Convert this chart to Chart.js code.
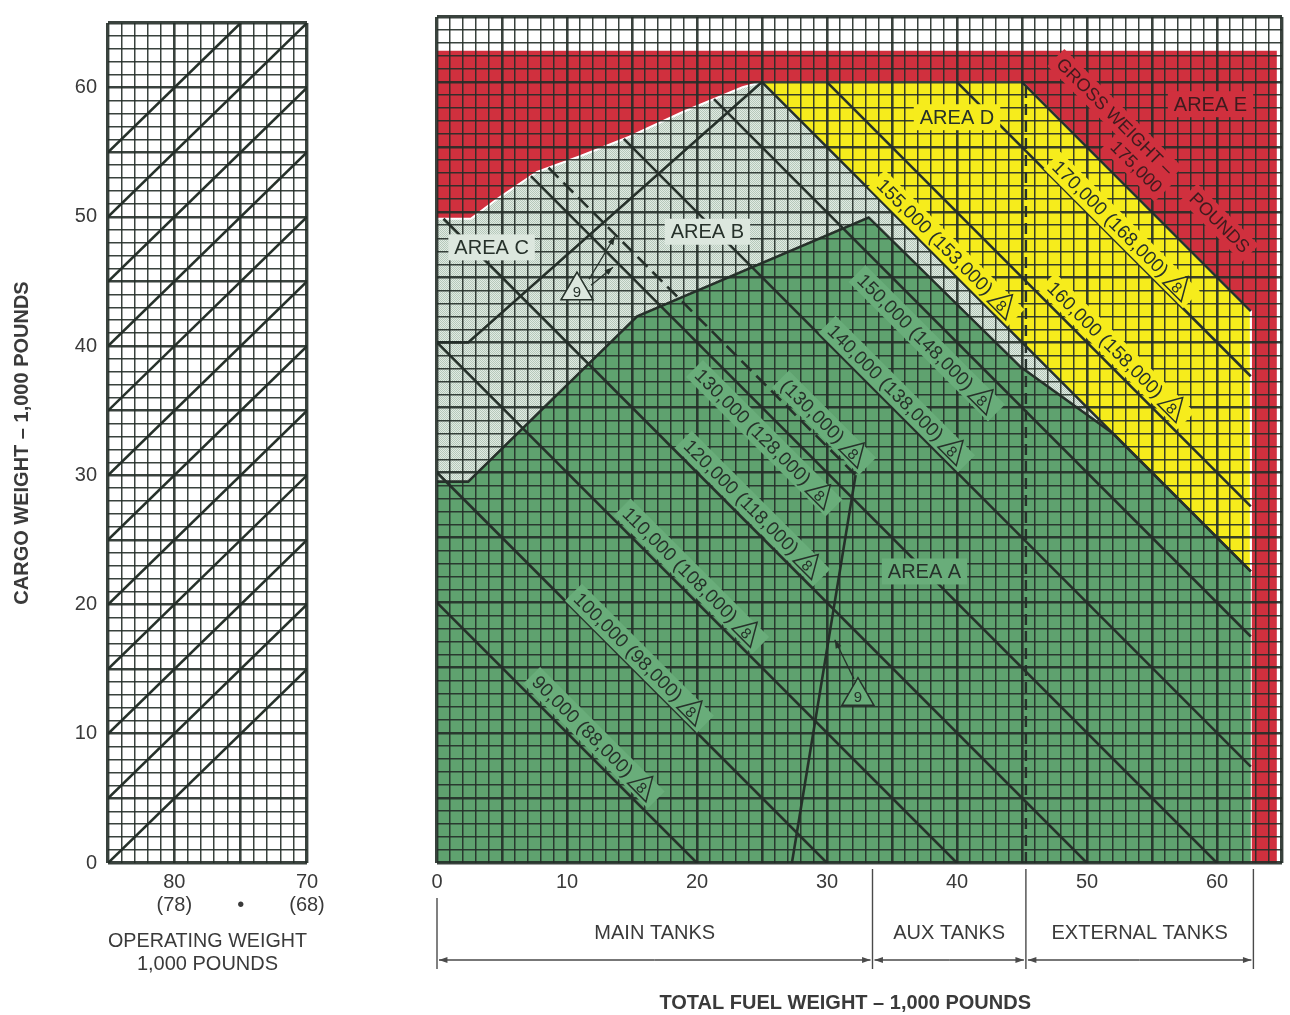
<!DOCTYPE html>
<html>
<head>
<meta charset="utf-8">
<title>Cargo / fuel loading chart</title>
<script src="https://cdn.jsdelivr.net/npm/chart.js@4.4.1/dist/chart.umd.min.js"></script>
<style>
  html, body { margin: 0; padding: 0; background: #ffffff; }
  #wrap { position: relative; width: 1290px; height: 1015px; overflow: hidden; }
  #opw  { position: absolute; left: 0; top: 0; }
  #fuel { position: absolute; left: 340px; top: 0; }
</style>
</head>
<body>
<div id="wrap">
  <canvas id="opw" width="340" height="1015"></canvas>
  <canvas id="fuel" width="950" height="1015"></canvas>
</div>
<script>
// ---------------- values ----------------
const cargoTicks = [0, 10, 20, 30, 40, 50, 60];
const fuelTicks = [0, 10, 20, 30, 40, 50, 60];

// operating weight panel (1,000 lb) - guide lines: cargo = start - operating weight
const opTickValues = [80, 75, 70];
const opTickLabels = [['80', '(78)'], ['', '\u2022'], ['70', '(68)']];
const opGuideStarts = [85, 90, 95, 100, 105, 110, 115, 120, 125, 130, 135, 140];

// gross weight lines (1,000 lb), drawn for 70,000 lb operating weight (68,000 in brackets)
const baseOpWeight = 70;
const altOpWeight = 68;
const grossWeights = [90, 100, 110, 120, 130, 140, 150, 155, 160, 170, 175];
const dashedGross = 130;           // shown for the 68,000 lb operating weight

// regions (fuel 1,000 lb, cargo 1,000 lb)
const areaE_x = [0, 64.6, 64.6, 0];
const areaE_y = [0, 0, 62.4, 62.4];
const envTop_x = [0, 2.6, 4.6, 7.7, 11.0, 14.8, 18.9, 23.5, 25, 45, 62.6];
const envTop_y = [49.5, 49.5, 51.0, 53.1, 54.3, 55.8, 57.7, 59.6, 60, 60, 42.4];
const areaD_x = [25, 45, 62.6, 62.6];
const areaD_y = [60, 60, 42.4, 22.4];
const areaA_x = [0, 0, 2.4, 15.4, 33.2, 44.9, 52, 62.6, 62.6];
const areaA_y = [0, 29.3, 29.3, 42, 49.6, 38.1, 33, 22.4, 0];
const areaBC_x = [0, 2.4, 25];
const areaBC_y = [40, 40, 60];
const limit9_x = [27.3, 32.2];
const limit9_y = [0, 29.8];
const fuelLimit = 62.6;
const tankSplit = 45.3;
const tankEdges = [0, 33.5, 45.3, 62.8];
const tankNames = ['MAIN TANKS', 'AUX TANKS', 'EXTERNAL TANKS'];

// ---------------- look ----------------
const FONT = '"Liberation Sans", Arial, Helvetica, sans-serif';
const TEXT = '#3a3a3a';
const GRID = 'rgba(36,46,40,0.9)';
const INK = '#26312a';
const RED = '#d0303e';
const YELLOW = '#f6ec1c';
const GREEN = '#5fa26f';
const GREEN_LABEL = '#69ad7a';
const LIGHT_LABEL = '#dce7de';

Chart.defaults.font.family = FONT;
Chart.defaults.color = TEXT;
Chart.defaults.animation = false;

const pts = (xs, ys) => xs.map((x, i) => ({ x, y: ys[i] }));
const closed = (xs, ys) => { const p = pts(xs, ys); p.push({ x: xs[0], y: ys[0] }); return p; };

function gridWidth(ctx) {
  if (!ctx.tick) return 1.5;
  const v = ctx.tick.value, s = ctx.scale;
  if (Math.abs(v - s.min) < 1e-6 || Math.abs(v - s.max) < 1e-6) return 3.4;
  return Math.abs(v % 5) < 1e-6 ? 2.6 : 1.5;
}

function stipple(canvasId, a, b) {
  const c = document.createElement('canvas');
  c.width = 2; c.height = 2;
  const g = c.getContext('2d');
  g.fillStyle = a; g.fillRect(0, 0, 2, 2);
  g.fillStyle = b; g.fillRect(0, 0, 1, 1); g.fillRect(1, 1, 1, 1);
  return document.getElementById(canvasId).getContext('2d').createPattern(c, 'repeat');
}

const lineStyle = { type: 'line', fill: false, borderColor: INK, borderWidth: 2.6, pointRadius: 0, tension: 0, order: 10 };

// ---------------- operating weight panel ----------------
const opMin = 70, opMax = 85, cargoMax = 65;
const opDatasets = opGuideStarts.map(s => {
  const xa = Math.max(opMin, s - cargoMax), xb = Math.min(opMax, s);
  return { ...lineStyle, data: [{ x: xa, y: s - xa }, { x: xb, y: s - xb }] };
});

new Chart(document.getElementById('opw'), {
  type: 'line',
  data: { datasets: opDatasets },
  options: {
    responsive: false,
    events: [],
    layout: { padding: { top: 17, right: 33, left: 0, bottom: 0 } },
    plugins: { legend: { display: false }, tooltip: { enabled: false } },
    scales: {
      x: {
        type: 'linear', min: opMin, max: opMax, reverse: true,
        ticks: {
          stepSize: 1, autoSkip: false, maxRotation: 0, padding: 8, color: TEXT,
          font: { size: 20, lineHeight: 1.15 },
          callback: v => { const i = opTickValues.indexOf(v); return i >= 0 ? opTickLabels[i] : ''; }
        },
        grid: { drawTicks: false, color: GRID, lineWidth: gridWidth, z: 1 },
        border: { display: false },
        title: { display: true, text: ['OPERATING WEIGHT', '1,000 POUNDS'], color: TEXT,
                 font: { size: 20, lineHeight: 1.15 }, padding: { top: 0, bottom: 39 } },
        afterFit: s => { s.height = 152; }
      },
      y: {
        type: 'linear', min: 0, max: cargoMax,
        ticks: {
          stepSize: 1, autoSkip: false, padding: 11, color: TEXT, font: { size: 20 },
          callback: v => cargoTicks.includes(v) ? String(v) : ''
        },
        grid: { drawTicks: false, color: GRID, lineWidth: gridWidth, z: 1 },
        border: { display: false },
        title: { display: true, text: 'CARGO WEIGHT \u2013 1,000 POUNDS', color: TEXT,
                 font: { size: 20, weight: 'bold' }, padding: { top: 10, bottom: 0 } },
        afterFit: s => { s.width = 108; }
      }
    }
  }
});

// ---------------- fuel panel ----------------
function startOnEnvelope(c) {
  if (c <= envTop_x[0] + envTop_y[0]) return { x: 0, y: c };
  for (let i = 0; i < envTop_x.length - 1; i++) {
    const s0 = envTop_x[i] + envTop_y[i], s1 = envTop_x[i + 1] + envTop_y[i + 1];
    if (c > s0 && c <= s1) {
      const t = (c - s0) / (s1 - s0);
      return { x: envTop_x[i] + t * (envTop_x[i + 1] - envTop_x[i]),
               y: envTop_y[i] + t * (envTop_y[i + 1] - envTop_y[i]) };
    }
  }
  return null;
}

function meetLimit9(c) {
  const dx = limit9_x[1] - limit9_x[0], dy = limit9_y[1] - limit9_y[0];
  const t = (c - limit9_x[0] - limit9_y[0]) / (dx + dy);
  return { x: limit9_x[0] + t * dx, y: limit9_y[0] + t * dy };
}

const grayFill = stipple('fuel', '#e1eae3', '#b5c9ba');

const fuelDatasets = [
  { type: 'line', data: closed(areaE_x, areaE_y), fill: 'shape', backgroundColor: RED,
    borderColor: 'rgba(0,0,0,0)', borderWidth: 1, pointRadius: 0, tension: 0, order: 100 },
  { type: 'line', data: closed(envTop_x.concat([fuelLimit, 0]), envTop_y.concat([0, 0])), fill: 'shape',
    backgroundColor: grayFill, borderColor: '#ffffff', borderWidth: 2, pointRadius: 0, tension: 0, order: 90 },
  { type: 'line', data: closed(areaD_x, areaD_y), fill: 'shape', backgroundColor: YELLOW,
    borderColor: '#ffffff', borderWidth: 2, pointRadius: 0, tension: 0, order: 80 },
  { type: 'line', data: closed(areaA_x, areaA_y), fill: 'shape', backgroundColor: GREEN,
    borderColor: 'rgba(0,0,0,0)', borderWidth: 1, pointRadius: 0, tension: 0, order: 70 },
  // area outlines
  { ...lineStyle, data: pts(areaA_x.slice(1, 8), areaA_y.slice(1, 8)) },
  { ...lineStyle, data: pts(areaBC_x, areaBC_y) },
  { ...lineStyle, data: pts(limit9_x, limit9_y) },
  { ...lineStyle, borderWidth: 2.4, borderDash: [11, 6],
    data: [{ x: tankSplit, y: 0 }, { x: tankSplit, y: 60 }] }
];

grossWeights.forEach(g => {
  const c = g - baseOpWeight;
  const a = startOnEnvelope(c);
  const xe = Math.min(c, fuelLimit);
  fuelDatasets.push({ ...lineStyle, data: [a, { x: xe, y: c - xe }] });
});
{
  const c = dashedGross - altOpWeight;
  fuelDatasets.push({ ...lineStyle, borderDash: [14, 7], data: [startOnEnvelope(c), meetLimit9(c)] });
}

// label placement: [fuel value at label centre, offset across the line], region colour
const lineLabelPlacement = [
  [11.2, 1.7, 'A'], [14.7, 1.3, 'A'], [18.7, 1.6, 'A'], [23.4, 1.5, 'A'], [24.3, -2.2, 'A'],
  [34.5, 1.4, 'A'], [36.8, -2.4, 'A'], [38.3, 1.4, 'D'], [51.4, 1.6, 'D'], [51.8, 1.3, 'D'], null
];
const dashedLabelPlacement = [28.9, 1.6, 'A'];
const regionBg = { A: GREEN_LABEL, B: LIGHT_LABEL, D: YELLOW, E: RED };
const areaLabels = [
  ['AREA A', 37.5, 22.4, 'A'], ['AREA B', 20.8, 48.5, 'B'], ['AREA C', 4.2, 47.3, 'B'],
  ['AREA D', 40.0, 57.3, 'D'], ['AREA E', 59.5, 58.3, 'E']
];
const fmt = v => (v * 1000).toLocaleString('en-US');

function noteTriangle(ctx, cx, cy, side, label, fontSize, bg) {
  const h = side * 0.866;
  ctx.beginPath();
  ctx.moveTo(cx, cy - h * 0.62);
  ctx.lineTo(cx + side / 2, cy + h * 0.38);
  ctx.lineTo(cx - side / 2, cy + h * 0.38);
  ctx.closePath();
  if (bg) { ctx.fillStyle = bg; ctx.fill(); }
  ctx.lineWidth = 1.5; ctx.strokeStyle = INK; ctx.stroke();
  ctx.fillStyle = INK;
  ctx.font = fontSize + 'px ' + FONT;
  ctx.textAlign = 'center'; ctx.textBaseline = 'middle';
  ctx.fillText(label, cx, cy + h * 0.12);
}

function slantLabel(ctx, px, py, text, bg, withNote, size, color) {
  ctx.save();
  ctx.translate(px, py);
  ctx.rotate(Math.PI / 4);
  ctx.font = size + 'px ' + FONT;
  const w = ctx.measureText(text).width;
  const extra = withNote ? 32 : 0;
  ctx.fillStyle = bg;
  ctx.fillRect(-w / 2 - 5, -12, w + 10 + extra, 24);
  ctx.fillStyle = color || INK;
  ctx.textAlign = 'center'; ctx.textBaseline = 'middle';
  ctx.fillText(text, 0, 1);
  if (withNote) noteTriangle(ctx, w / 2 + 18, 0, 26, '8', 15, null);
  ctx.restore();
}

function arrow(ctx, x0, y0, x1, y1) {
  const a = Math.atan2(y1 - y0, x1 - x0), L = 9;
  ctx.beginPath(); ctx.moveTo(x0, y0); ctx.lineTo(x1, y1); ctx.stroke();
  ctx.beginPath();
  ctx.moveTo(x1, y1);
  ctx.lineTo(x1 - L * Math.cos(a - 0.35), y1 - L * Math.sin(a - 0.35));
  ctx.lineTo(x1 - L * Math.cos(a + 0.35), y1 - L * Math.sin(a + 0.35));
  ctx.closePath(); ctx.fill();
}

const fuelNotes = {
  id: 'fuelNotes',
  afterDraw(chart) {
    const { ctx, scales: { x, y }, chartArea } = chart;
    const px = v => x.getPixelForValue(v), py = v => y.getPixelForValue(v);
    ctx.save();

    // gross weight labels
    grossWeights.forEach((g, i) => {
      const p = lineLabelPlacement[i];
      if (!p) return;
      const c = g - baseOpWeight;
      const text = fmt(g) + ' (' + fmt(g - (baseOpWeight - altOpWeight)) + ')';
      slantLabel(ctx, px(p[0]), py(c + p[1] - p[0]), text, regionBg[p[2]], true, 19);
    });
    {
      const c = dashedGross - altOpWeight, p = dashedLabelPlacement;
      slantLabel(ctx, px(p[0]), py(c + p[1] - p[0]), '(' + fmt(dashedGross) + ')', regionBg[p[2]], true, 19);
    }
    // gross weight limit along area E
    {
      const g = grossWeights[grossWeights.length - 1];
      const c = g - baseOpWeight;
      slantLabel(ctx, px(52.15), py(c + 4.5 - 52.15), 'GROSS WEIGHT \u2013', RED, false, 18, '#3f1b1e');
      slantLabel(ctx, px(53.8), py(c + 2.3 - 53.8), fmt(g), RED, false, 18, '#3f1b1e');
      slantLabel(ctx, px(60.2), py(c + 4.4 - 60.2), 'POUNDS', RED, false, 18, '#3f1b1e');
    }

    // area names
    ctx.font = '20px ' + FONT;
    ctx.textAlign = 'center'; ctx.textBaseline = 'middle';
    areaLabels.forEach(([t, fx, cy, r]) => {
      const w = ctx.measureText(t).width;
      ctx.fillStyle = regionBg[r];
      ctx.fillRect(px(fx) - w / 2 - 6, py(cy) - 13, w + 12, 26);
      ctx.fillStyle = r === 'E' ? '#3f1b1e' : INK;
      ctx.fillText(t, px(fx), py(cy) + 1);
    });

    // note 9 markers
    ctx.strokeStyle = INK; ctx.fillStyle = INK; ctx.lineWidth = 1.3;
    const n1 = [px(10.77), py(44.08)], n2 = [px(32.38), py(12.92)];
    arrow(ctx, n1[0] + 12, n1[1] - 10, px(13.69), py(48.15));
    arrow(ctx, n1[0] + 14, n1[1] - 4, px(13.54), py(45.77));
    arrow(ctx, n2[0] - 4, n2[1] - 16, px(30.6), py(17.15));
    noteTriangle(ctx, n1[0], n1[1], 32, '9', 15, LIGHT_LABEL);
    noteTriangle(ctx, n2[0], n2[1], 32, '9', 15, GREEN_LABEL);

    // tank brackets
    const b = chartArea.bottom;
    ctx.strokeStyle = '#4a4a4a'; ctx.fillStyle = '#4a4a4a'; ctx.lineWidth = 1.4;
    tankEdges.forEach((e, i) => {
      ctx.beginPath();
      ctx.moveTo(px(e), b + (i === 0 ? 35 : 6));
      ctx.lineTo(px(e), b + 106);
      ctx.stroke();
    });
    for (let i = 0; i < tankEdges.length - 1; i++) {
      const x0 = px(tankEdges[i]) + 2, x1 = px(tankEdges[i + 1]) - 2, yy = b + 97;
      arrow(ctx, (x0 + x1) / 2, yy, x0, yy);
      arrow(ctx, (x0 + x1) / 2, yy, x1, yy);
      ctx.font = '20px ' + FONT;
      ctx.textAlign = 'center'; ctx.textBaseline = 'middle';
      ctx.fillStyle = TEXT;
      ctx.fillText(tankNames[i], (x0 + x1) / 2, b + 70);
      ctx.fillStyle = '#4a4a4a';
    }
    ctx.font = 'bold 20px ' + FONT;
    ctx.fillStyle = TEXT;
    ctx.fillText('TOTAL FUEL WEIGHT \u2013 1,000 POUNDS',
      px((tankEdges[0] + tankEdges[tankEdges.length - 1]) / 2), b + 140);
    ctx.restore();
  }
};

new Chart(document.getElementById('fuel'), {
  type: 'line',
  data: { datasets: fuelDatasets },
  options: {
    responsive: false,
    events: [],
    layout: { padding: { top: 17, right: 8, left: 97, bottom: 0 } },
    plugins: { legend: { display: false }, tooltip: { enabled: false } },
    scales: {
      x: {
        type: 'linear', min: 0, max: 65,
        ticks: {
          stepSize: 1, autoSkip: false, maxRotation: 0, padding: 8, color: TEXT,
          font: { size: 20, lineHeight: 1.15 },
          callback: v => fuelTicks.includes(v) ? String(v) : ''
        },
        grid: { drawTicks: false, color: GRID, lineWidth: gridWidth, z: 1 },
        border: { display: false },
        afterFit: s => { s.height = 152; }
      },
      y: {
        type: 'linear', min: 0, max: 65,
        ticks: { stepSize: 1, autoSkip: false, display: false },
        grid: { drawTicks: false, color: GRID, lineWidth: gridWidth, z: 1 },
        border: { display: false },
        afterFit: s => { s.width = 0; }
      }
    }
  },
  plugins: [fuelNotes]
});
</script>
</body>
</html>
